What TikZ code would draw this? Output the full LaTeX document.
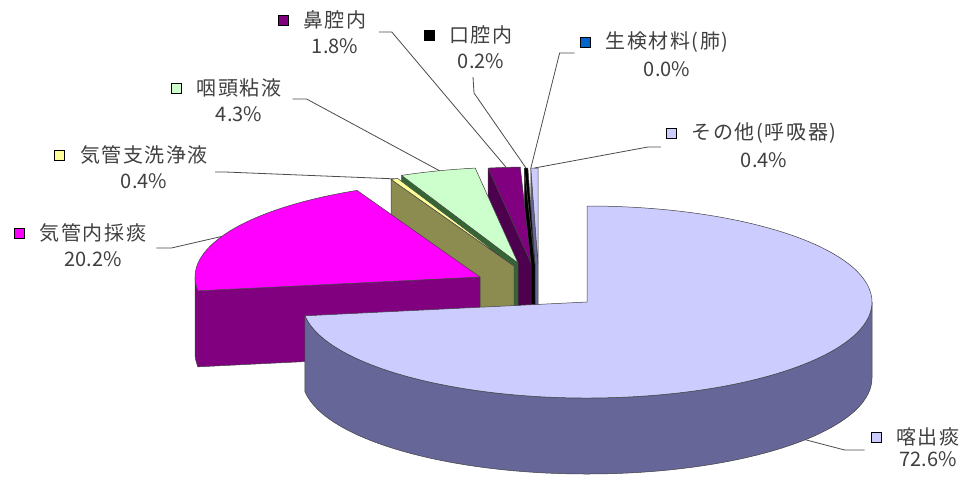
\documentclass[tikz,border=0pt]{standalone}
\usepackage{fontspec}
\usetikzlibrary{positioning}
\newfontfamily\jp[LetterSpace=8]{Noto Sans CJK JP}
\newfontfamily\jpnum{Noto Sans CJK JP}

\definecolor{sputum}{HTML}{CCCCFF}
\definecolor{sputumside}{HTML}{666699}
\definecolor{trach}{HTML}{FF00FF}
\definecolor{trachside}{HTML}{800080}
\definecolor{wash}{HTML}{FFFF99}
\definecolor{washside}{RGB}{140,140,80}
\definecolor{pharynx}{HTML}{CCFFCC}
\definecolor{pharynxside}{HTML}{336633}
\definecolor{nose}{HTML}{800080}
\definecolor{noseside}{HTML}{4D004D}
\definecolor{biopsy}{HTML}{0066CC}

% pie size (pt)
\newcommand{\pieRx}{285}
\newcommand{\pieRy}{96}
\newcommand{\pieDepth}{76}

% apex x, apex y, start, end, top colour, face colour
\newcommand{\pieslice}[6]{%
  \filldraw[slice,fill=#6] (#1,#2) -- ({#1+\pieRx*cos(#4)},{#2+\pieRy*sin(#4)})
    -- ++(0,-\pieDepth) -- (#1,#2-\pieDepth) -- cycle;
  \filldraw[slice,fill=#5] (#1,#2) -- ({#1+\pieRx*cos(#3)},{#2+\pieRy*sin(#3)})
    arc[start angle=#3,end angle=#4,x radius=\pieRx pt,y radius=\pieRy pt] -- cycle;
}

\begin{document}
\begin{tikzpicture}[x=1pt,y=1pt,
  slice/.style={draw=black!75,line width=0.5pt,line join=round},
  lbl/.style={font=\jp\fontsize{20}{22}\selectfont,text=black!75,inner sep=0pt},
  pct/.style={font=\jpnum\fontsize{20}{22}\selectfont,text=black!75,inner sep=0pt},
  keybox/.style={draw=black,line width=0.6pt,minimum size=10pt,inner sep=0pt},
  leader/.style={draw=black!70,line width=0.8pt}]

\fill[white] (0,0) rectangle (966,-479);

% small slices, back to front
  \pieslice{538}{-264}{90}{91.44}{sputum}{sputumside}
  \pieslice{535}{-264}{91.44}{92.16}{black}{black}
  \pieslice{531}{-263}{92.16}{98.64}{nose}{noseside}
  \pieslice{518}{-263}{98.64}{114.12}{pharynx}{pharynxside}
  \pieslice{514}{-266}{114.12}{115.56}{wash}{washside}

% 20.2% slice
  \filldraw[slice,fill=trachside] ({480+\pieRx*cos(180)},{-277+\pieRy*sin(180)})
    arc[start angle=180,end angle=188.28,x radius=\pieRx pt,y radius=\pieRy pt]
    -- ++(0,-\pieDepth)
    arc[start angle=188.28,end angle=180,x radius=\pieRx pt,y radius=\pieRy pt] -- cycle;
  \pieslice{480}{-277}{115.56}{188.28}{trach}{trachside}

% big slice
  \filldraw[slice,fill=sputumside] ({587+\pieRx*cos(188.28)},{-302+\pieRy*sin(188.28)})
    arc[start angle=188.28,end angle=360,x radius=\pieRx pt,y radius=\pieRy pt]
    -- ++(0,-\pieDepth)
    arc[start angle=360,end angle=188.28,x radius=\pieRx pt,y radius=\pieRy pt] -- cycle;
  \filldraw[slice,fill=sputum] (587,-302) -- ({587+\pieRx*cos(188.28)},{-302+\pieRy*sin(188.28)})
    arc[start angle=188.28,end angle=450,x radius=\pieRx pt,y radius=\pieRy pt] -- cycle;

% rim points for the leaders
  \coordinate (other-rim) at ({538+\pieRx*cos(90.7)},{-264+\pieRy*sin(90.7)});
  \coordinate (biopsy-rim) at ({538+\pieRx*cos(91.44)},{-264+\pieRy*sin(91.44)});
  \coordinate (mouth-rim) at ({535+\pieRx*cos(91.8)},{-264+\pieRy*sin(91.8)});
  \coordinate (nose-rim) at ({531+\pieRx*cos(95)},{-263+\pieRy*sin(95)});
  \coordinate (pharynx-rim) at ({518+\pieRx*cos(106)},{-263+\pieRy*sin(106)});
  \coordinate (wash-rim) at ({514+\pieRx*cos(114.8)},{-266+\pieRy*sin(114.8)});
  \coordinate (trach-rim) at ({480+\pieRx*cos(155)},{-277+\pieRy*sin(155)});
  \coordinate (sputum-rim) at ({587+\pieRx*cos(320)},{-302-\pieDepth+\pieRy*sin(320)});

% labels
  \node[lbl] (nose) at (335,-20) {鼻腔内};
  \node[keybox,fill=nose,left=15pt of nose] (nose-key) {};
  \node[pct,below=9pt of nose] (nose-pct) {1.8\%};

  \node[lbl] (mouth) at (481,-35) {口腔内};
  \node[keybox,fill=black,left=15pt of mouth] (mouth-key) {};
  \node[pct,below=9pt of mouth] (mouth-pct) {0.2\%};

  \node[lbl] (biopsy) at (667,-42) {生検材料(肺)};
  \node[keybox,fill=biopsy,left=15pt of biopsy] (biopsy-key) {};
  \node[pct,below=9pt of biopsy] (biopsy-pct) {0.0\%};

  \node[lbl] (other) at (764,-133) {その他(呼吸器)};
  \node[keybox,fill=sputum,left=15pt of other] (other-key) {};
  \node[pct,below=9pt of other] (other-pct) {0.4\%};

  \node[lbl] (pharynx) at (239,-88) {咽頭粘液};
  \node[keybox,fill=pharynx,left=15pt of pharynx] (pharynx-key) {};
  \node[pct,below=9pt of pharynx] (pharynx-pct) {4.3\%};

  \node[lbl] (wash) at (144,-155) {気管支洗浄液};
  \node[keybox,fill=wash,left=15pt of wash] (wash-key) {};
  \node[pct,below=9pt of wash] (wash-pct) {0.4\%};

  \node[lbl] (trach) at (93,-233) {気管内採痰};
  \node[keybox,fill=trach,left=15pt of trach] (trach-key) {};
  \node[pct,below=9pt of trach] (trach-pct) {20.2\%};

  \node[lbl] (sputum) at (928,-437) {喀出痰};
  \node[keybox,fill=sputum,left=15pt of sputum] (sputum-key) {};
  \node[pct,below=5pt of sputum] (sputum-pct) {72.6\%};

% leaders
  \draw[leader] ([shift={(12pt,-12pt)}]nose.east) -- ++(13,0) -- (nose-rim);
  \draw[leader] ([shift={(-8pt,-8pt)}]mouth-pct.south) -- ++(1,-16) -- (mouth-rim);
  \draw[leader] ([shift={(-5pt,-11pt)}]biopsy-key.west) -- ++(-15,0) -- (biopsy-rim);
  \draw[leader] ([shift={(-5pt,-14pt)}]other-key.west) -- ++(-13,0) -- (other-rim);
  \draw[leader] ([shift={(11pt,-11pt)}]pharynx.east) -- ++(14,0) -- (pharynx-rim);
  \draw[leader] ([shift={(7pt,-17pt)}]wash.east) -- ++(10,0) -- (wash-rim);
  \draw[leader] ([shift={(10pt,-15pt)}]trach.east) -- ++(15,0) -- (trach-rim);
  \draw[leader] ([shift={(-6pt,-13pt)}]sputum-key.west) -- ++(-20,0) -- (sputum-rim);

\end{tikzpicture}
\end{document}
